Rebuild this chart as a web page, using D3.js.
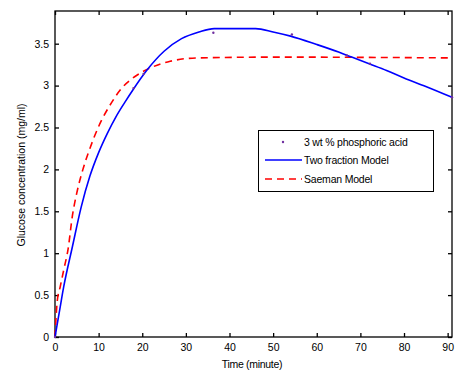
<!DOCTYPE html>
<html><head><meta charset="utf-8">
<script src="https://cdn.jsdelivr.net/npm/d3@7"></script>
<style>
body{margin:0;background:#fff;}
text{font-family:"Liberation Sans",Arial,sans-serif;fill:#000;}
</style></head>
<body><svg id="c" width="456" height="374"></svg>
<script>
const xTicks=[0,10,20,30,40,50,60,70,80,90];
const yTicks=[0,0.5,1,1.5,2,2.5,3,3.5];
const yTickLabels=["0","0.5","1","1.5","2","2.5","3","3.5"];
const expT=[0,18,20.3,36.3,54.3,66.9,72.2,91];
const expY=[0,2.97,3.14,3.63,3.61,3.36,3.26,2.86];
const twoT=[0,1,2,4,6,8,10,12,14,16,18,21,25,29,33,36.5,46,50,54,60,65,68,72,76,80,85,91];
const twoY=[0,0.3,0.6,1.08,1.55,1.92,2.2,2.43,2.63,2.8,2.96,3.18,3.41,3.56,3.64,3.68,3.68,3.64,3.59,3.49,3.4,3.34,3.26,3.18,3.09,2.99,2.86];
const saeT=[0,0.5,1.2,2,3,4,5,6.4,8,9.9,13,15.3,17.6,19.9,21.8,26.4,32.5,50,91];
const saeY=[0,0.42,0.6,0.8,1.05,1.45,1.72,2.0,2.25,2.5,2.8,2.97,3.08,3.16,3.21,3.29,3.33,3.34,3.33];
const legendLabels=["3 wt % phosphoric acid","Two fraction Model","Saeman Model"];

const svg=d3.select("#c");
const L=55,R=452,T=11,B=337;
const x=d3.scaleLinear().domain([0,91]).range([L,R]);
const y=d3.scaleLinear().domain([0,3.89]).range([B,T]);
const fs="10.5px";

svg.append("rect").attr("x",L).attr("y",T).attr("width",R-L).attr("height",B-T).attr("fill","none").attr("stroke","#000").attr("stroke-width",1.3);

const xa=svg.append("g").attr("transform",`translate(0,${B})`).call(d3.axisBottom(x).tickValues(xTicks).tickSizeInner(-4).tickSizeOuter(0).tickPadding(7));
const xt=svg.append("g").attr("transform",`translate(0,${T})`).call(d3.axisTop(x).tickValues(xTicks).tickSizeInner(-4).tickSizeOuter(0).tickFormat(""));
const ya=svg.append("g").attr("transform",`translate(${L},0)`).call(d3.axisLeft(y).tickValues(yTicks).tickSizeInner(-4).tickSizeOuter(0).tickPadding(6).tickFormat((d,i)=>yTickLabels[i]));
const yr=svg.append("g").attr("transform",`translate(${R},0)`).call(d3.axisRight(y).tickValues(yTicks).tickSizeInner(-4).tickSizeOuter(0).tickFormat(""));
[xa,xt,ya,yr].forEach(g=>{g.select(".domain").remove();g.selectAll("line").attr("stroke","#000").attr("stroke-width",1.3);g.selectAll("text").style("font-size",fs).attr("fill","#000").style("font-family","Liberation Sans, Arial, sans-serif");});

const line=d3.line().curve(d3.curveMonotoneX).x(d=>x(d[0])).y(d=>y(d[1]));
svg.append("path").datum(saeT.map((t,i)=>[t,saeY[i]])).attr("d",line).attr("fill","none").attr("stroke","#ff0000").attr("stroke-width",1.6).attr("stroke-dasharray","7,5");
svg.append("path").datum(twoT.map((t,i)=>[t,twoY[i]])).attr("d",line).attr("fill","none").attr("stroke","#0000ff").attr("stroke-width",1.6);
svg.selectAll(".pt").data(expT.map((t,i)=>[t,expY[i]])).enter().append("circle").attr("cx",d=>x(d[0])).attr("cy",d=>y(d[1])).attr("r",1.2).attr("fill","#7030a0");

// legend
const lg=svg.append("g");
lg.append("rect").attr("x",258.5).attr("y",130.5).attr("width",175).attr("height",61).attr("fill","#fff").attr("stroke","#000").attr("stroke-width",1);
const rows=[142,160,179];
lg.append("circle").attr("cx",283).attr("cy",rows[0]).attr("r",1.2).attr("fill","#7030a0");
lg.append("line").attr("x1",265).attr("x2",302).attr("y1",rows[1]).attr("y2",rows[1]).attr("stroke","#0000ff").attr("stroke-width",1.6);
lg.append("line").attr("x1",265).attr("x2",302).attr("y1",rows[2]).attr("y2",rows[2]).attr("stroke","#ff0000").attr("stroke-width",1.6).attr("stroke-dasharray","7,5");
legendLabels.forEach((s,i)=>lg.append("text").attr("x",304).attr("y",rows[i]).attr("dy","0.35em").style("font-size",fs).style("letter-spacing","-0.2px").text(s));

svg.append("text").attr("x",252).attr("y",368).attr("text-anchor","middle").style("font-size",fs).style("letter-spacing","-0.3px").text("Time (minute)");
svg.append("text").attr("transform","translate(25,175) rotate(-90)").attr("text-anchor","middle").style("font-size",fs).text("Glucose concentration (mg/ml)");
</script></body></html>
